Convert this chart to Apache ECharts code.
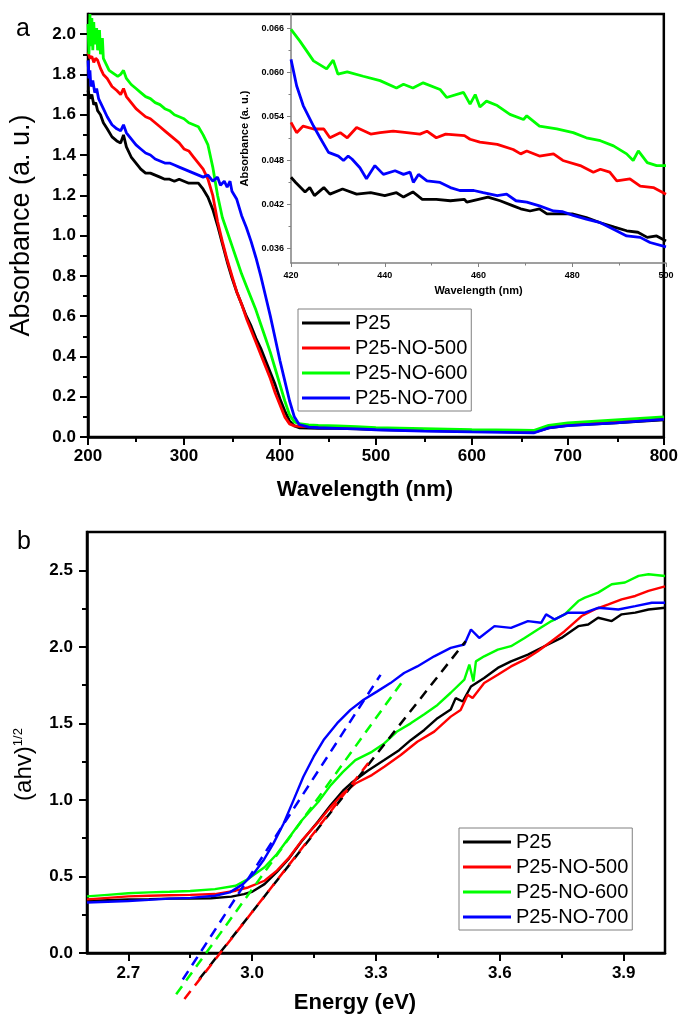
<!DOCTYPE html>
<html><head><meta charset="utf-8">
<script src="https://cdn.jsdelivr.net/npm/echarts@6/dist/echarts.min.js"></script>
<style>html,body{margin:0;padding:0;background:#fff}#c{width:681px;height:1015px}</style>
</head><body><div id="c"></div>
<script>
const seriesNames = ['P25', 'P25-NO-500', 'P25-NO-600', 'P25-NO-700'];
const seriesColors = ['#000000', '#ff0000', '#00ff00', '#0000ff'];

// ---- panel a: absorbance [wavelength nm, absorbance] ----
const absP25 = [[200,1.72],[202,1.68],[204,1.70],[206,1.65],[208,1.66],[210,1.62],[213,1.60],[216,1.56],[220,1.53],[225,1.49],[230,1.47],[234,1.46],[237,1.50],[240,1.44],[245,1.39],[250,1.36],[255,1.33],[260,1.31],[265,1.31],[270,1.30],[275,1.29],[280,1.28],[285,1.28],[290,1.27],[295,1.28],[300,1.27],[305,1.26],[310,1.26],[315,1.26],[320,1.23],[325,1.19],[330,1.13],[335,1.05],[340,0.96],[345,0.87],[350,0.79],[355,0.72],[360,0.66],[365,0.60],[370,0.55],[375,0.49],[380,0.44],[385,0.38],[390,0.32],[395,0.26],[400,0.19],[405,0.13],[410,0.08],[415,0.055],[420,0.046],[430,0.044],[440,0.043],[460,0.043],[480,0.041],[500,0.037],[550,0.032],[600,0.028],[650,0.025],[665,0.024],[680,0.045],[700,0.058],[750,0.070],[800,0.085]];
const absNO500 = [[200,1.91],[202,1.88],[204,1.89],[206,1.86],[208,1.88],[210,1.87],[213,1.83],[216,1.80],[220,1.78],[225,1.74],[230,1.72],[234,1.70],[237,1.73],[240,1.69],[245,1.66],[250,1.63],[255,1.61],[260,1.59],[265,1.58],[270,1.56],[275,1.54],[280,1.52],[285,1.50],[290,1.48],[295,1.46],[300,1.43],[305,1.42],[310,1.39],[315,1.36],[320,1.33],[325,1.28],[330,1.20],[335,1.07],[340,0.97],[345,0.88],[350,0.80],[355,0.72],[360,0.66],[365,0.59],[370,0.53],[375,0.47],[380,0.41],[385,0.35],[390,0.29],[395,0.22],[400,0.16],[405,0.10],[410,0.065],[415,0.055],[420,0.053],[430,0.052],[440,0.052],[460,0.050],[480,0.047],[500,0.043],[550,0.037],[600,0.033],[650,0.030],[665,0.029],[680,0.050],[700,0.062],[750,0.075],[800,0.090]];
const absNO600 = [[200,2.05],[201,1.90],[202,2.10],[203,1.94],[204,2.08],[205,1.92],[206,2.06],[207,1.95],[209,2.03],[210,1.92],[212,2.02],[213,1.90],[215,1.98],[216,1.88],[218,1.86],[220,1.84],[222,1.82],[225,1.81],[228,1.80],[231,1.79],[234,1.80],[237,1.82],[240,1.78],[245,1.75],[250,1.73],[255,1.71],[260,1.69],[265,1.68],[270,1.66],[275,1.65],[280,1.63],[285,1.62],[290,1.60],[295,1.59],[300,1.58],[305,1.56],[310,1.55],[315,1.54],[320,1.50],[325,1.45],[330,1.34],[335,1.20],[340,1.09],[345,1.02],[350,0.95],[355,0.88],[360,0.81],[365,0.75],[370,0.69],[375,0.63],[380,0.56],[385,0.49],[390,0.42],[395,0.34],[400,0.26],[405,0.18],[410,0.11],[415,0.075],[420,0.066],[430,0.060],[440,0.058],[460,0.055],[480,0.052],[500,0.047],[550,0.042],[600,0.037],[650,0.034],[665,0.033],[680,0.058],[700,0.070],[750,0.085],[800,0.100]];
const absNO700 = [[200,1.87],[201,1.78],[202,1.82],[203,1.74],[205,1.77],[207,1.71],[209,1.73],[211,1.68],[213,1.66],[216,1.63],[220,1.59],[225,1.55],[230,1.53],[234,1.52],[237,1.55],[240,1.51],[245,1.48],[250,1.45],[255,1.43],[260,1.41],[265,1.40],[270,1.38],[275,1.37],[280,1.36],[285,1.36],[290,1.35],[295,1.34],[300,1.33],[305,1.32],[310,1.31],[315,1.30],[320,1.29],[325,1.30],[330,1.27],[335,1.29],[338,1.25],[342,1.27],[345,1.24],[348,1.27],[350,1.22],[355,1.18],[360,1.10],[365,1.04],[370,0.97],[375,0.89],[380,0.80],[385,0.70],[390,0.60],[395,0.49],[400,0.38],[405,0.28],[410,0.18],[415,0.10],[420,0.062],[430,0.049],[440,0.046],[460,0.043],[480,0.040],[500,0.036],[550,0.029],[600,0.025],[650,0.022],[665,0.021],[680,0.045],[700,0.056],[750,0.070],[800,0.088]];

// ---- inset: 420-500 nm ----
const insetP25 = [[420,0.0457],[421,0.0450],[423,0.0437],[424,0.0443],[425,0.0432],[427,0.0443],[428.3,0.0434],[431,0.0441],[434,0.0434],[437,0.0436],[440,0.0432],[442.5,0.0436],[444,0.0430],[446,0.0437],[448,0.0427],[451,0.0427],[454,0.0425],[457,0.0427],[457.5,0.0423],[460,0.0427],[462,0.0430],[464.6,0.0425],[467.4,0.0418],[469,0.0414],[471,0.0411],[473,0.0414],[474.6,0.0407],[477.4,0.0407],[480,0.0407],[483,0.0402],[486,0.0395],[489,0.0389],[491.6,0.0384],[494,0.0382],[496,0.0375],[498,0.0377],[500,0.0370]];
const insetNO500 = [[420,0.0532],[421.2,0.0518],[422.6,0.0527],[424.8,0.0523],[427,0.0523],[428.3,0.0511],[430.5,0.0518],[432,0.0511],[434,0.0525],[437,0.0516],[439,0.0518],[441.8,0.0520],[444.7,0.0518],[447.5,0.0516],[449,0.0520],[451,0.0511],[453,0.0516],[457,0.0514],[458.2,0.0509],[460.3,0.0505],[464,0.0502],[467.4,0.0495],[469,0.0489],[470.3,0.0493],[473,0.0486],[476,0.0489],[478,0.0480],[481.7,0.0473],[484.5,0.0464],[486,0.0468],[488,0.0464],[489.5,0.0452],[492.3,0.0455],[494.5,0.0445],[497.3,0.0443],[500,0.0434]];
const insetNO600 = [[420,0.0659],[421.9,0.0643],[423.3,0.0630],[424.8,0.0616],[427.6,0.0605],[429,0.0617],[430,0.0598],[432,0.0601],[435.4,0.0595],[439,0.0589],[442.5,0.0579],[444,0.0584],[446,0.0579],[448.2,0.0586],[451.8,0.0577],[453.2,0.0566],[456.8,0.0573],[458.2,0.0557],[459.3,0.0570],[460.3,0.0553],[461.7,0.0561],[464,0.0555],[466.7,0.0543],[469.6,0.0536],[470.3,0.0541],[473,0.0527],[476.7,0.0523],[480.2,0.0518],[483,0.0511],[486,0.0507],[488.8,0.0500],[491.6,0.0489],[493,0.0480],[494.1,0.0493],[496,0.0477],[498,0.0473],[500,0.0473]];
const insetNO700 = [[420,0.0618],[421.2,0.0582],[422.6,0.0555],[424.8,0.0527],[426.2,0.0511],[428,0.0491],[430.1,0.0486],[431.2,0.0480],[432.2,0.0486],[433,0.0482],[434.7,0.0470],[436.1,0.0455],[437.9,0.0473],[439.7,0.0461],[442.2,0.0466],[444,0.0461],[445.4,0.0464],[446.1,0.0450],[447.2,0.0461],[449,0.0452],[451.8,0.0450],[454,0.0443],[456,0.0439],[459,0.0439],[461,0.0436],[464,0.0432],[466,0.0434],[468,0.0425],[470.3,0.0423],[473,0.0418],[476,0.0411],[478,0.0410],[480.2,0.0405],[483,0.0400],[486,0.0395],[488.8,0.0386],[491.6,0.0377],[494.5,0.0375],[496.6,0.0368],[500,0.0362]];

// ---- panel b: (ahv)^1/2 vs energy [eV, value] ----
const taucP25 = [[2.60,0.34],[2.65,0.345],[2.70,0.35],[2.75,0.352],[2.80,0.355],[2.85,0.355],[2.90,0.358],[2.95,0.368],[2.98,0.385],[3.00,0.40],[3.03,0.45],[3.06,0.53],[3.09,0.62],[3.12,0.73],[3.16,0.86],[3.19,0.965],[3.22,1.06],[3.24,1.11],[3.28,1.19],[3.32,1.26],[3.356,1.325],[3.384,1.39],[3.417,1.457],[3.449,1.534],[3.481,1.59],[3.493,1.665],[3.510,1.643],[3.530,1.741],[3.562,1.796],[3.595,1.862],[3.627,1.905],[3.668,1.949],[3.708,2.004],[3.749,2.058],[3.790,2.135],[3.814,2.146],[3.838,2.19],[3.871,2.168],[3.895,2.212],[3.928,2.223],[3.960,2.244],[4.0,2.255]];
const taucNO500 = [[2.60,0.35],[2.65,0.36],[2.70,0.37],[2.75,0.374],[2.80,0.377],[2.85,0.38],[2.91,0.385],[2.96,0.407],[2.99,0.428],[3.03,0.472],[3.06,0.538],[3.09,0.625],[3.12,0.734],[3.16,0.855],[3.19,0.953],[3.22,1.041],[3.25,1.107],[3.29,1.162],[3.32,1.216],[3.36,1.293],[3.40,1.38],[3.441,1.446],[3.481,1.544],[3.505,1.588],[3.522,1.687],[3.534,1.665],[3.562,1.763],[3.595,1.818],[3.627,1.872],[3.660,1.916],[3.692,1.971],[3.725,2.036],[3.757,2.102],[3.798,2.201],[3.830,2.244],[3.863,2.277],[3.895,2.31],[3.928,2.332],[3.960,2.365],[4.0,2.395]];
const taucNO600 = [[2.60,0.37],[2.65,0.38],[2.70,0.39],[2.75,0.396],[2.80,0.40],[2.85,0.405],[2.91,0.417],[2.96,0.439],[2.99,0.483],[3.03,0.56],[3.06,0.647],[3.09,0.756],[3.12,0.865],[3.16,0.986],[3.19,1.095],[3.22,1.183],[3.25,1.26],[3.29,1.314],[3.32,1.369],[3.35,1.445],[3.384,1.50],[3.417,1.56],[3.449,1.62],[3.481,1.70],[3.514,1.785],[3.526,1.884],[3.536,1.774],[3.542,1.905],[3.562,1.938],[3.595,1.982],[3.627,2.004],[3.660,2.058],[3.692,2.113],[3.725,2.168],[3.757,2.212],[3.790,2.299],[3.806,2.321],[3.838,2.354],[3.871,2.409],[3.903,2.42],[3.936,2.463],[3.960,2.474],[4.0,2.463]];
const taucNO700 = [[2.60,0.33],[2.65,0.335],[2.70,0.34],[2.75,0.347],[2.80,0.355],[2.85,0.36],[2.91,0.374],[2.946,0.396],[2.978,0.45],[3.003,0.516],[3.027,0.604],[3.051,0.713],[3.076,0.844],[3.10,0.997],[3.124,1.151],[3.149,1.282],[3.173,1.391],[3.206,1.501],[3.238,1.588],[3.27,1.654],[3.303,1.709],[3.335,1.763],[3.368,1.829],[3.40,1.872],[3.441,1.938],[3.481,1.993],[3.514,2.015],[3.530,2.113],[3.550,2.058],[3.587,2.135],[3.627,2.124],[3.668,2.168],[3.70,2.157],[3.712,2.212],[3.733,2.179],[3.765,2.223],[3.806,2.223],[3.838,2.255],[3.887,2.244],[3.928,2.266],[3.968,2.288],[4.0,2.288]];
// tangent (band-gap) fit lines: two end points each
const fitP25 = [[2.872,-0.17],[3.517,2.036]];
const fitNO500 = [[2.836,-0.30],[3.287,1.26]];
const fitNO600 = [[2.816,-0.27],[3.364,1.774]];
const fitNO700 = [[2.832,-0.173],[3.311,1.817]];

// ---- tick labels ----
const xTicksTop = [200,300,400,500,600,700,800];
const xMinorTop = [250,350,450,550,650,750];
const yTicksTop = [0,0.2,0.4,0.6,0.8,1.0,1.2,1.4,1.6,1.8,2.0];
const yMinorTop = [0.1,0.3,0.5,0.7,0.9,1.1,1.3,1.5,1.7,1.9];
const xTicksInset = [420,440,460,480,500];
const xMinorInset = [430,450,470,490];
const yTicksInset = [0.036,0.042,0.048,0.054,0.060,0.066];
const yMinorInset = [0.039,0.045,0.051,0.057,0.063];
const xTicksBot = [2.7,3.0,3.3,3.6,3.9];
const xMinorBot = [2.85,3.15,3.45,3.75];
const yTicksBot = [0,0.5,1.0,1.5,2.0,2.5];
const yMinorBot = [0.25,0.75,1.25,1.75,2.25];

const FONT = '"Liberation Sans", Arial, sans-serif';

function majorAxis(o) {
  return {
    type: 'value', gridIndex: o.grid, min: o.min, max: o.max,
    axisLine: { show: true, onZero: false, lineStyle: { color: o.lineColor || '#000', width: o.lineWidth || 2.5 } },
    axisTick: { show: true, inside: false, customValues: o.ticks, length: o.tickLen || 8, lineStyle: { color: o.lineColor || '#000', width: o.tickWidth || 2 } },
    axisLabel: { show: true, customValues: o.ticks, formatter: o.fmt, fontFamily: FONT, fontWeight: 'bold', fontSize: o.fontSize || 17, color: '#000', margin: o.margin || 10 },
    splitLine: { show: false },
    name: o.name, nameLocation: 'middle', nameGap: o.nameGap, nameRotate: o.nameRotate,
    nameTextStyle: o.nameStyle
  };
}
function minorAxis(o) {
  return {
    type: 'value', gridIndex: o.grid, min: o.min, max: o.max,
    axisLine: { show: false, onZero: false },
    axisTick: { show: true, inside: false, customValues: o.ticks, length: o.tickLen || 5, lineStyle: { color: o.lineColor || '#000', width: o.tickWidth || 2 } },
    axisLabel: { show: false },
    splitLine: { show: false }
  };
}

const gridTop = { left: 88, top: 14, width: 578, height: 423 };
const gridInset = { left: 291, top: 14, width: 375, height: 249 };
const gridBot = { left: 87, top: 532, width: 578, height: 421 };

function lineSeries(name, data, color, xi, yi, width, z) {
  return { type: 'line', name: name, data: data, xAxisIndex: xi, yAxisIndex: yi, showSymbol: false, symbol: 'none',
    lineStyle: { color: color, width: width }, itemStyle: { color: color }, z: z || 3, animation: false };
}
function fitSeries(name, data, color) {
  return { type: 'line', name: name, data: data, xAxisIndex: 4, yAxisIndex: 4, showSymbol: false, symbol: 'none', clip: false,
    lineStyle: { color: color, width: 2.5, type: [10, 7] }, itemStyle: { color: color }, z: 4, animation: false };
}

const topData = [absP25, absNO500, absNO600, absNO700];
const insetData = [insetP25, insetNO500, insetNO600, insetNO700];
const botData = [taucP25, taucNO500, taucNO600, taucNO700];
const fitData = [fitP25, fitNO500, fitNO600, fitNO700];

const series = [];
seriesNames.forEach((n, i) => series.push(lineSeries(n, topData[i], seriesColors[i], 0, 0, 2.8)));
seriesNames.forEach((n, i) => series.push(lineSeries(n, insetData[i], seriesColors[i], 2, 2, 2.8)));
seriesNames.forEach((n, i) => series.push(lineSeries(n, botData[i], seriesColors[i], 4, 4, 2.4)));
seriesNames.forEach((n, i) => series.push(fitSeries(n + ' fit', fitData[i], seriesColors[i])));

const legendBase = {
  orient: 'vertical', icon: 'rect', itemWidth: 48, itemHeight: 3, itemGap: 5,
  padding: [4, 4, 3, 4], borderColor: '#808080', borderWidth: 1, backgroundColor: '#fff',
  textStyle: { fontFamily: FONT, fontSize: 20, color: '#000' }, data: seriesNames, selectedMode: false
};

const chart = echarts.init(document.getElementById('c'), null, { renderer: 'canvas' });
chart.setOption({
  animation: false,
  backgroundColor: '#fff',
  grid: [
    Object.assign({ show: true, borderColor: '#000', borderWidth: 2.5, backgroundColor: 'transparent' }, gridTop),
    Object.assign({ show: false }, gridTop),
    Object.assign({ show: false }, gridInset),
    Object.assign({ show: false }, gridInset),
    Object.assign({ show: true, borderColor: '#000', borderWidth: 2.5, backgroundColor: 'transparent' }, gridBot),
    Object.assign({ show: false }, gridBot)
  ],
  xAxis: [
    majorAxis({ grid: 0, min: 200, max: 800, ticks: xTicksTop, fmt: v => String(v), margin: 11,
      name: 'Wavelength (nm)', nameGap: 42, nameStyle: { fontFamily: FONT, fontSize: 22, fontWeight: 'bold', color: '#000', padding: [0, 22, 0, 0] } }),
    minorAxis({ grid: 1, min: 200, max: 800, ticks: xMinorTop }),
    majorAxis({ grid: 2, min: 420, max: 500, ticks: xTicksInset, fmt: v => String(v), lineColor: '#808080', lineWidth: 1.5, tickLen: 4, tickWidth: 1, fontSize: 9, margin: 8,
      name: 'Wavelength (nm)', nameGap: 22, nameStyle: { fontFamily: FONT, fontSize: 11, fontWeight: 'bold', color: '#000' } }),
    minorAxis({ grid: 3, min: 420, max: 500, ticks: xMinorInset, lineColor: '#808080', tickLen: 2.5, tickWidth: 1 }),
    majorAxis({ grid: 4, min: 2.6, max: 4.0, ticks: xTicksBot, fmt: v => v.toFixed(1), fontSize: 17, margin: 12,
      name: 'Energy (eV)', nameGap: 39, nameStyle: { fontFamily: FONT, fontSize: 22, fontWeight: 'bold', color: '#000', padding: [0, 42, 0, 0] } }),
    minorAxis({ grid: 5, min: 2.6, max: 4.0, ticks: xMinorBot })
  ],
  yAxis: [
    majorAxis({ grid: 0, min: 0, max: 2.1, ticks: yTicksTop, fmt: v => v.toFixed(1), margin: 12,
      name: 'Absorbance (a. u.)', nameGap: 53, nameStyle: { fontFamily: FONT, fontSize: 27, color: '#000' } }),
    minorAxis({ grid: 1, min: 0, max: 2.1, ticks: yMinorTop }),
    majorAxis({ grid: 2, min: 0.034, max: 0.068, ticks: yTicksInset, fmt: v => v.toFixed(3), lineColor: '#808080', lineWidth: 1.5, tickLen: 4, tickWidth: 1, fontSize: 9, margin: 7,
      name: 'Absorbance (a. u.)', nameGap: 34, nameStyle: { fontFamily: FONT, fontSize: 11, fontWeight: 'bold', color: '#000' } }),
    minorAxis({ grid: 3, min: 0.034, max: 0.068, ticks: yMinorInset, lineColor: '#808080', tickLen: 2.5, tickWidth: 1 }),
    majorAxis({ grid: 4, min: 0, max: 2.75, ticks: yTicksBot, fmt: v => v.toFixed(1), margin: 14,
      name: '{m|(ahv)}{s|1/2}', nameGap: 51,
      nameStyle: { fontFamily: FONT, fontSize: 24, color: '#000', padding: [0, 44, 0, 0],
        rich: { m: { fontFamily: FONT, fontSize: 24, color: '#000' }, s: { fontFamily: FONT, fontSize: 13, color: '#000', verticalAlign: 'top' } } } }),
    minorAxis({ grid: 5, min: 0, max: 2.75, ticks: yMinorBot })
  ],
  legend: [
    Object.assign({ left: 298, top: 309 }, legendBase),
    Object.assign({ left: 459, top: 828 }, legendBase)
  ],
  graphic: [
    { type: 'text', left: 16, top: 17, style: { text: 'a', font: '25px ' + FONT, fill: '#000' } },
    { type: 'text', left: 17, top: 530, style: { text: 'b', font: '25px ' + FONT, fill: '#000' } }
  ],
  series: series
});
</script>
</body></html>
